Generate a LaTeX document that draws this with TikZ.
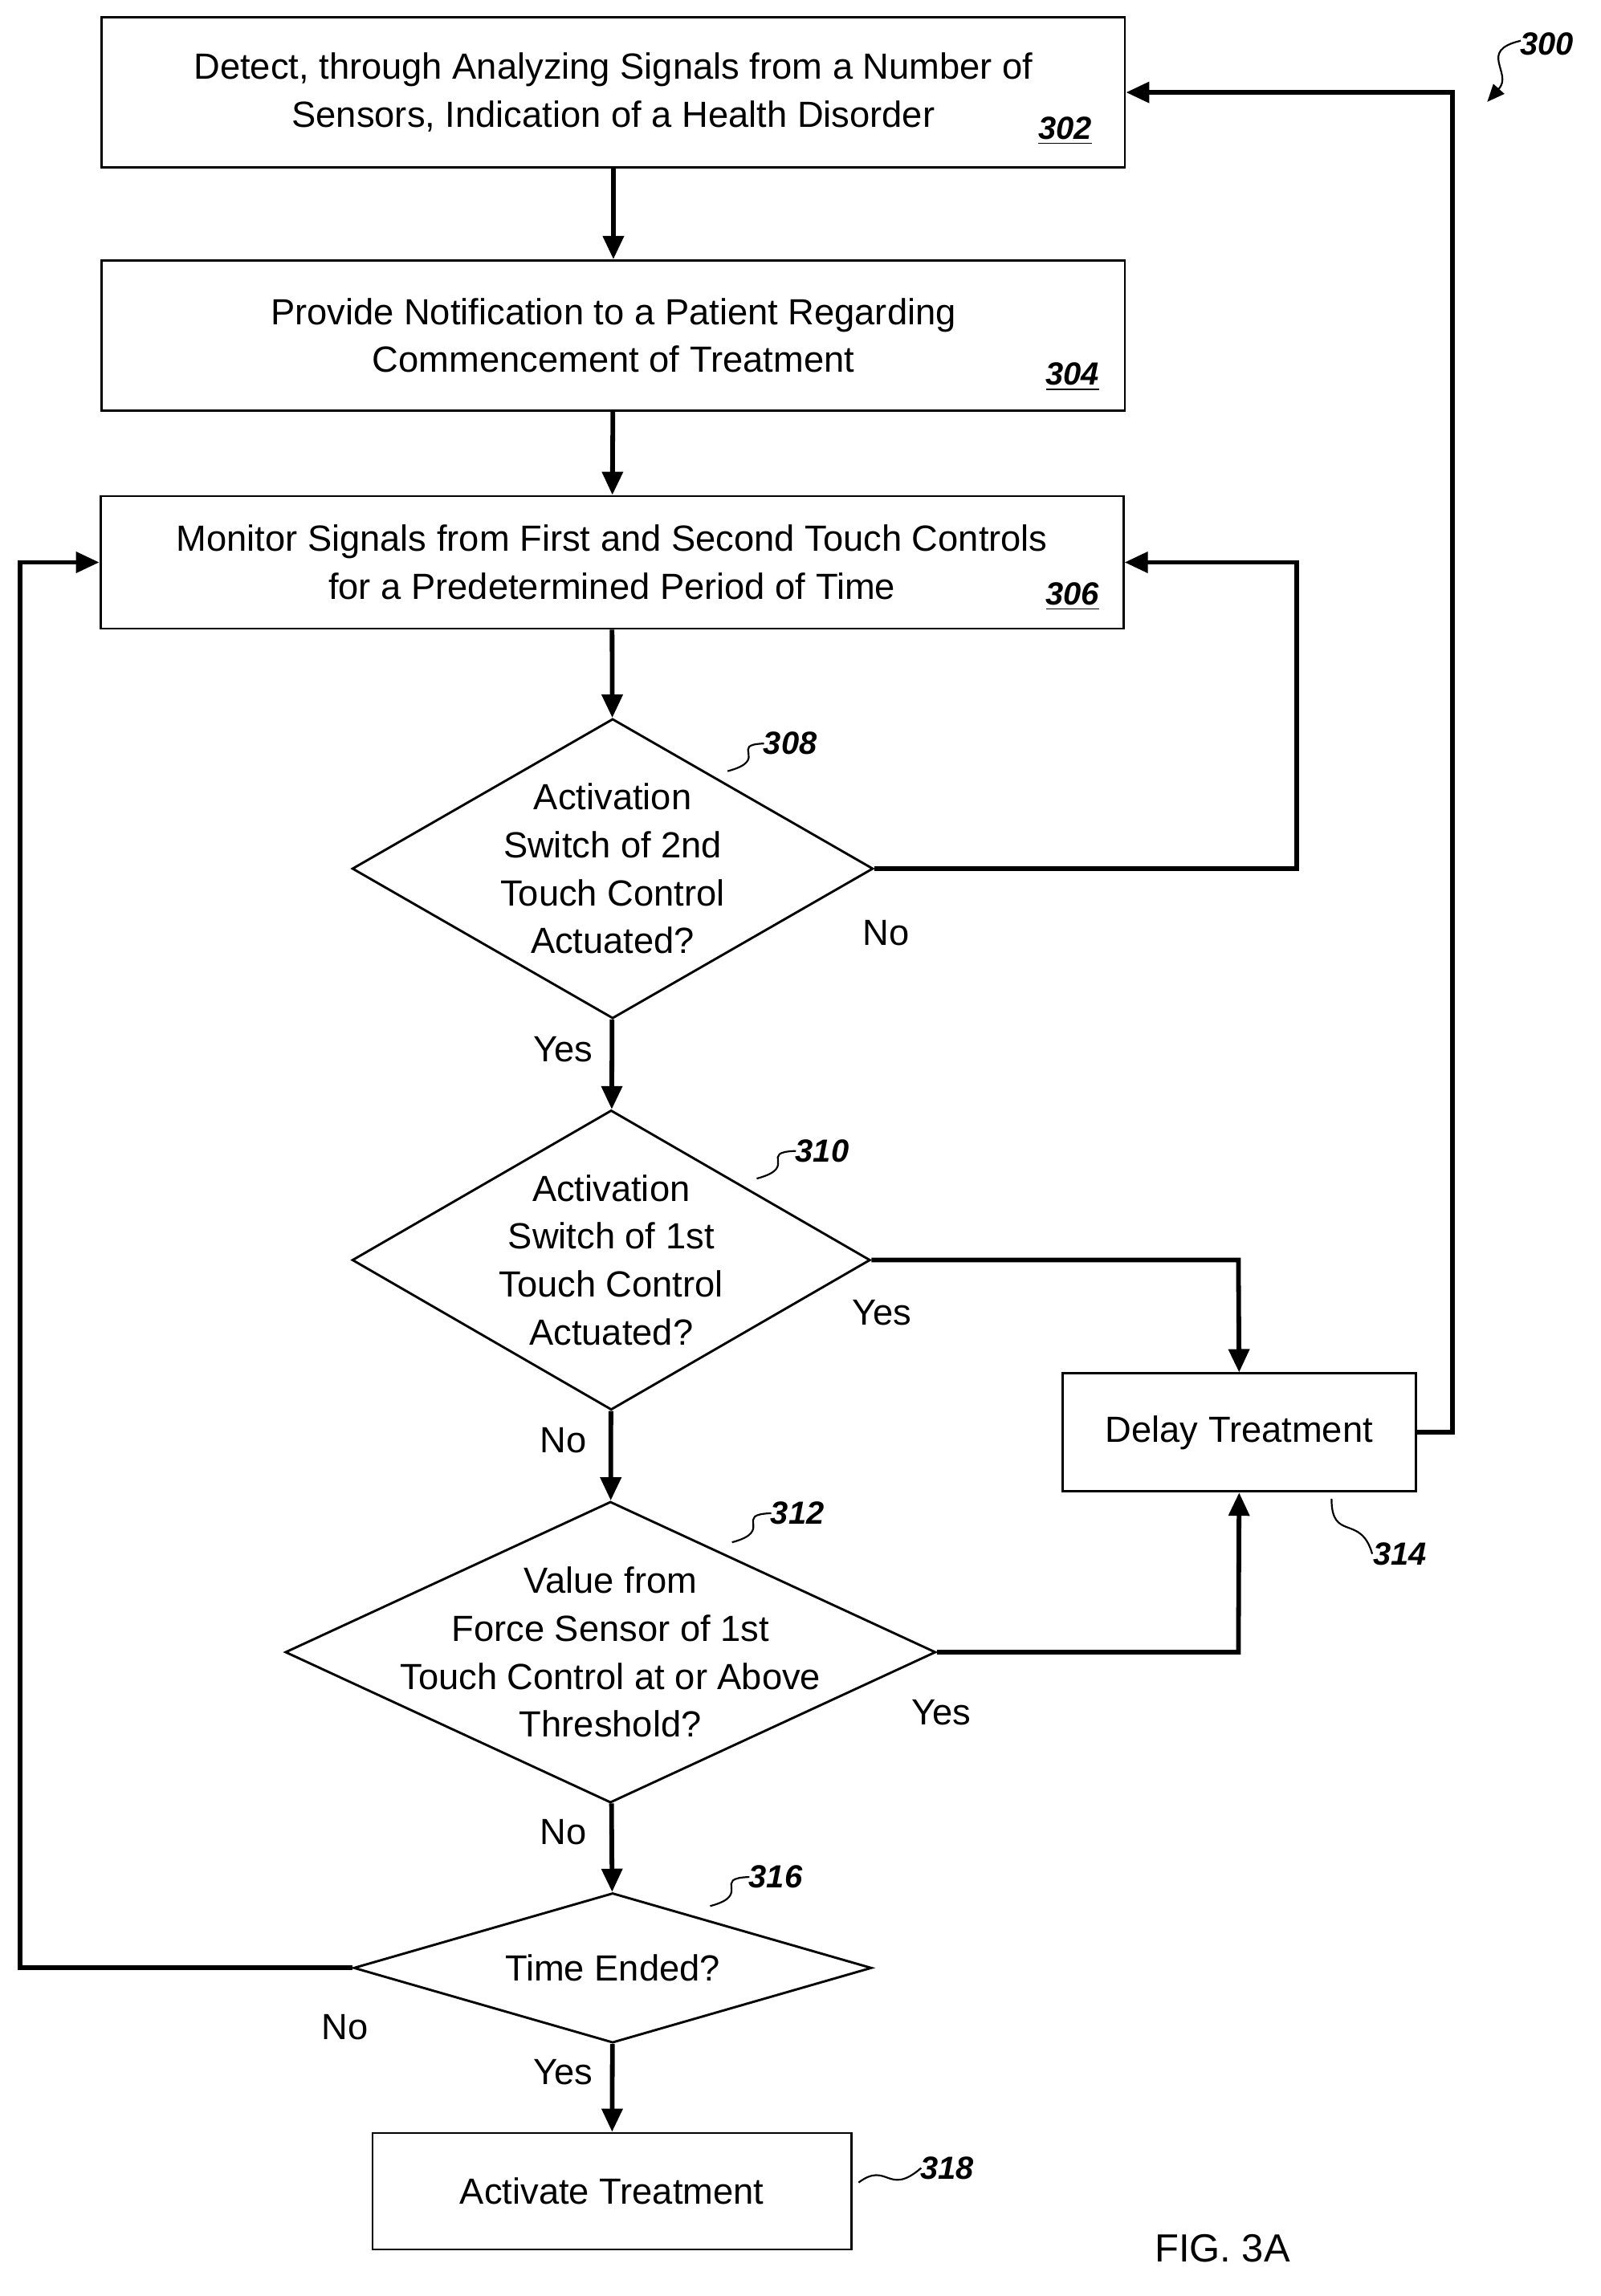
\documentclass[tikz,border=0pt]{standalone}
\usepackage{fontspec}
\setmainfont{Liberation Sans}
\usetikzlibrary{shapes.geometric,arrows.meta}
\begin{document}
\begin{tikzpicture}[x=0.5pt,y=-0.5pt,font=\fontsize{12.5}{16.5}\selectfont,
    process/.style={rectangle, draw, line width=0.8pt, inner sep=0pt, align=center},
    decision/.style={diamond, draw, line width=0.8pt, inner sep=0pt},
    flow/.style={-{Triangle[length=8pt,width=7pt]}, line width=1.6pt},
    ref/.style={font=\fontsize{11}{13}\selectfont\bfseries\itshape},
    squig/.style={line width=0.6pt}]
  \useasboundingbox (0,0) rectangle (1100,1578);

  \node[process, minimum width=351.5pt, minimum height=51.5pt] (detect) at (421.5,63.5)
    {Detect, through Analyzing Signals from a Number of\\Sensors, Indication of a Health Disorder};
  \node[process, minimum width=351.5pt, minimum height=51.5pt] (notify) at (421.5,230.5)
    {Provide Notification to a Patient Regarding\\Commencement of Treatment};
  \node[process, minimum width=351.5pt, minimum height=45.5pt] (monitor) at (420.5,386.5)
    {Monitor Signals from First and Second Touch Controls\\for a Predetermined Period of Time};

  \node[decision, minimum width=179pt, minimum height=103pt] (second) at (421,597) {};
  \node[align=center] (second-txt) at (421,597) {Activation\\Switch of 2nd\\Touch Control\\Actuated?};
  \node[decision, minimum width=178pt, minimum height=103pt] (first) at (420,866) {};
  \node[align=center] (first-txt) at (420,866) {Activation\\Switch of 1st\\Touch Control\\Actuated?};
  \node[decision, minimum width=223.5pt, minimum height=103.5pt] (force) at (419.5,1135.5) {};
  \node[align=center] (force-txt) at (419.5,1135.5) {Value from\\Force Sensor of 1st\\Touch Control at or Above\\Threshold?};
  \node[decision, minimum width=178pt, minimum height=51.5pt] (ended) at (421,1352.5) {};
  \node (ended-txt) at (421,1352.5) {Time Ended?};

  \node[process, minimum width=164.5pt, minimum height=40pt] (activate) at (420.5,1506) {Activate Treatment};
  \node[process, minimum width=121.5pt, minimum height=40.5pt] (delay) at (851.5,984.5) {Delay Treatment};

  \coordinate (c-second) at (891,597);
  \coordinate (c-first) at (851,866);
  \coordinate (c-force) at (851,1135.5);
  \coordinate (c-delay) at (998,984.5);
  \coordinate (c-ended) at (14,1352.5);

  \draw[flow] (detect) -- (notify);
  \draw[flow] (notify) -- (monitor);
  \draw[flow] (monitor) -- (second);
  \draw[flow] (second) -- (first);
  \draw[flow] (first) -- (force);
  \draw[flow] (force) -- (ended);
  \draw[flow] (ended) -- (activate);
  \draw[flow] (second.east) -- (c-second) |- (monitor.east);
  \draw[flow] (first.east) -- (c-first) -- (delay.north);
  \draw[flow] (force.east) -- (c-force) -- (delay.south);
  \draw[flow] (delay.east) -- (c-delay) |- (detect.east);
  \draw[flow] (ended.west) -- (c-ended) |- (monitor.west);

  \node (no-1) at (609,641) {No};
  \node (yes-1) at (387,721) {Yes};
  \node (yes-2) at (606,902) {Yes};
  \node (no-2) at (387,990) {No};
  \node (yes-3) at (647,1177) {Yes};
  \node (no-3) at (387,1259) {No};
  \node (no-4) at (237,1393) {No};
  \node (yes-4) at (387,1424) {Yes};

  \node[ref] (ref-302) at (732,90) {\underline{302}};
  \node[ref] (ref-304) at (737,259) {\underline{304}};
  \node[ref] (ref-306) at (737,410) {\underline{306}};
  \node[ref] (ref-308) at (543,511) {308};
  \node[ref] (ref-310) at (565,791) {310};
  \node[ref] (ref-312) at (548,1040) {312};
  \node[ref] (ref-316) at (533,1290) {316};
  \node[ref] (ref-314) at (962,1068) {314};
  \node[ref] (ref-318) at (651,1490) {318};
  \node[ref] (ref-300) at (1063,30) {300};
  \node[font=\fontsize{13.5}{16}\selectfont] (fig) at (840,1545) {FIG. 3A};

  % leader squiggles
  \draw[squig] (500,530) .. controls (530,522) and (500,512) .. (525,511);
  \draw[squig] (520,810) .. controls (550,802) and (520,792) .. (547,791);
  \draw[squig] (503,1060) .. controls (533,1052) and (503,1041) .. (530,1040);
  \draw[squig] (488,1310) .. controls (518,1302) and (488,1291) .. (515,1290);
  \draw[squig] (915,1030) .. controls (915,1060) and (935,1040) .. (943,1068);
  \draw[squig] (590,1500) .. controls (610,1485) and (610,1510) .. (633,1490);
  \draw[squig,-{Triangle[length=6pt,width=5pt]}] (1045,28) .. controls (1015,35) and (1040,50) .. (1022,70);
\end{tikzpicture}
\end{document}
